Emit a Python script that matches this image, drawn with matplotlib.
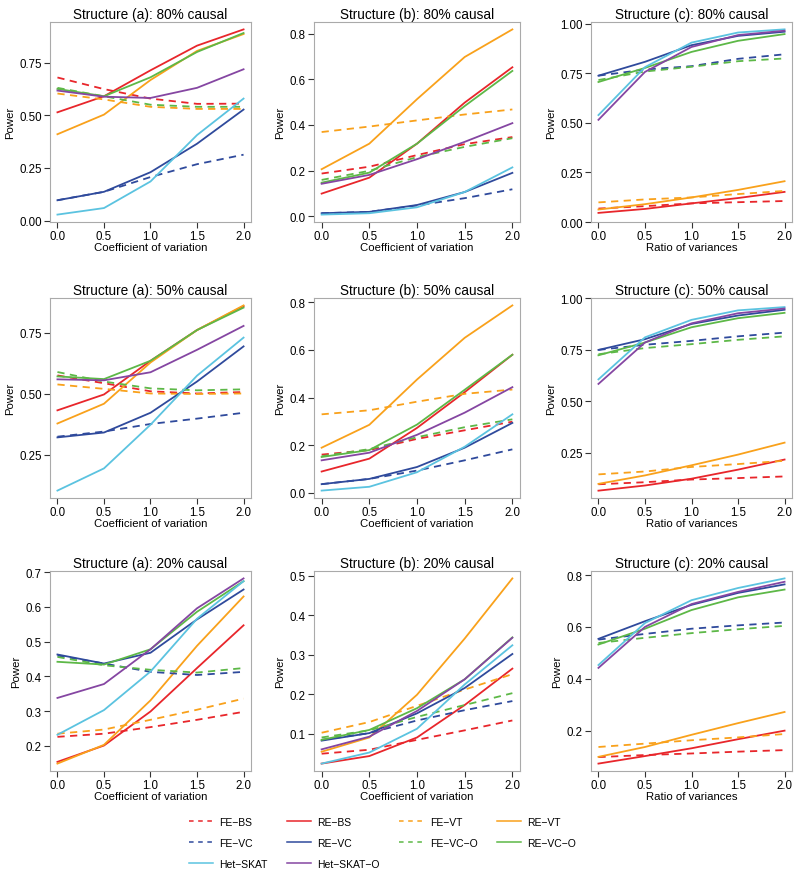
import numpy as np
import matplotlib
matplotlib.use("Agg")
import matplotlib.pyplot as plt
from matplotlib.lines import Line2D

plt.rcParams['font.family'] = ['Liberation Sans', 'DejaVu Sans']

x = [0.0, 0.5, 1.0, 1.5, 2.0]

# power values per panel
a80 = {
    "FE-BS": [0.679, 0.624, 0.579, 0.554, 0.555],
    "RE-BS": [0.514, 0.590, 0.713, 0.830, 0.907],
    "FE-VT": [0.603, 0.575, 0.540, 0.530, 0.530],
    "RE-VT": [0.410, 0.503, 0.667, 0.805, 0.885],
    "FE-VC": [0.097, 0.137, 0.207, 0.268, 0.313],
    "RE-VC": [0.097, 0.137, 0.230, 0.365, 0.527],
    "FE-VC-O": [0.630, 0.590, 0.550, 0.540, 0.540],
    "RE-VC-O": [0.625, 0.590, 0.680, 0.800, 0.890],
    "Het-SKAT": [0.029, 0.060, 0.186, 0.406, 0.579],
    "Het-SKAT-O": [0.617, 0.588, 0.582, 0.630, 0.718],
}
b80 = {
    "FE-BS": [0.187, 0.217, 0.268, 0.316, 0.347],
    "RE-BS": [0.099, 0.169, 0.318, 0.498, 0.653],
    "FE-VT": [0.369, 0.393, 0.420, 0.446, 0.468],
    "RE-VT": [0.206, 0.318, 0.513, 0.698, 0.819],
    "FE-VC": [0.013, 0.019, 0.047, 0.079, 0.118],
    "RE-VC": [0.013, 0.019, 0.049, 0.106, 0.190],
    "FE-VC-O": [0.159, 0.199, 0.259, 0.304, 0.342],
    "RE-VC-O": [0.147, 0.191, 0.318, 0.483, 0.637],
    "Het-SKAT": [0.007, 0.013, 0.039, 0.106, 0.214],
    "Het-SKAT-O": [0.142, 0.181, 0.250, 0.326, 0.408],
}
c80 = {
    "FE-BS": [0.068, 0.080, 0.094, 0.100, 0.106],
    "RE-BS": [0.046, 0.066, 0.094, 0.121, 0.152],
    "FE-VT": [0.099, 0.114, 0.124, 0.141, 0.157],
    "RE-VT": [0.063, 0.090, 0.124, 0.162, 0.206],
    "FE-VC": [0.739, 0.770, 0.787, 0.824, 0.847],
    "RE-VC": [0.739, 0.809, 0.893, 0.940, 0.961],
    "FE-VC-O": [0.717, 0.760, 0.784, 0.812, 0.826],
    "RE-VC-O": [0.707, 0.778, 0.859, 0.915, 0.949],
    "Het-SKAT": [0.540, 0.782, 0.906, 0.957, 0.973],
    "Het-SKAT-O": [0.516, 0.758, 0.884, 0.944, 0.966],
}
a50 = {
    "FE-BS": [0.575, 0.543, 0.510, 0.501, 0.507],
    "RE-BS": [0.432, 0.497, 0.635, 0.761, 0.859],
    "FE-VT": [0.538, 0.520, 0.501, 0.499, 0.501],
    "RE-VT": [0.378, 0.459, 0.628, 0.761, 0.862],
    "FE-VC": [0.324, 0.345, 0.376, 0.398, 0.422],
    "RE-VC": [0.321, 0.341, 0.422, 0.550, 0.694],
    "FE-VC-O": [0.589, 0.550, 0.522, 0.514, 0.518],
    "RE-VC-O": [0.571, 0.560, 0.635, 0.761, 0.853],
    "Het-SKAT": [0.103, 0.194, 0.373, 0.574, 0.730],
    "Het-SKAT-O": [0.559, 0.555, 0.588, 0.680, 0.778],
}
b50 = {
    "FE-BS": [0.161, 0.180, 0.227, 0.263, 0.299],
    "RE-BS": [0.090, 0.144, 0.273, 0.423, 0.580],
    "FE-VT": [0.330, 0.347, 0.383, 0.416, 0.434],
    "RE-VT": [0.190, 0.286, 0.476, 0.651, 0.787],
    "FE-VC": [0.037, 0.059, 0.094, 0.137, 0.183],
    "RE-VC": [0.037, 0.059, 0.109, 0.190, 0.294],
    "FE-VC-O": [0.154, 0.184, 0.234, 0.276, 0.309],
    "RE-VC-O": [0.151, 0.180, 0.287, 0.433, 0.580],
    "Het-SKAT": [0.010, 0.026, 0.087, 0.194, 0.330],
    "Het-SKAT-O": [0.137, 0.169, 0.244, 0.337, 0.444],
}
c50 = {
    "FE-BS": [0.096, 0.106, 0.119, 0.126, 0.134],
    "RE-BS": [0.065, 0.090, 0.123, 0.167, 0.216],
    "FE-VT": [0.144, 0.158, 0.180, 0.194, 0.210],
    "RE-VT": [0.098, 0.139, 0.188, 0.240, 0.298],
    "FE-VC": [0.748, 0.773, 0.792, 0.814, 0.832],
    "RE-VC": [0.748, 0.800, 0.874, 0.915, 0.943],
    "FE-VC-O": [0.727, 0.757, 0.776, 0.797, 0.814],
    "RE-VC-O": [0.722, 0.784, 0.858, 0.902, 0.928],
    "Het-SKAT": [0.605, 0.809, 0.894, 0.940, 0.956],
    "Het-SKAT-O": [0.583, 0.784, 0.877, 0.926, 0.949],
}
a20 = {
    "FE-BS": [0.226, 0.235, 0.254, 0.275, 0.298],
    "RE-BS": [0.154, 0.201, 0.299, 0.424, 0.547],
    "FE-VT": [0.235, 0.247, 0.275, 0.304, 0.336],
    "RE-VT": [0.149, 0.203, 0.331, 0.488, 0.630],
    "FE-VC": [0.460, 0.437, 0.413, 0.404, 0.413],
    "RE-VC": [0.463, 0.437, 0.468, 0.564, 0.650],
    "FE-VC-O": [0.456, 0.432, 0.419, 0.411, 0.424],
    "RE-VC-O": [0.442, 0.434, 0.478, 0.586, 0.674],
    "Het-SKAT": [0.232, 0.303, 0.414, 0.566, 0.674],
    "Het-SKAT-O": [0.338, 0.378, 0.478, 0.596, 0.682],
}
b20 = {
    "FE-BS": [0.050, 0.060, 0.085, 0.109, 0.134],
    "RE-BS": [0.025, 0.044, 0.091, 0.173, 0.265],
    "FE-VT": [0.103, 0.130, 0.171, 0.212, 0.251],
    "RE-VT": [0.055, 0.091, 0.199, 0.341, 0.493],
    "FE-VC": [0.085, 0.102, 0.134, 0.160, 0.183],
    "RE-VC": [0.083, 0.102, 0.152, 0.216, 0.302],
    "FE-VC-O": [0.091, 0.109, 0.143, 0.173, 0.203],
    "RE-VC-O": [0.085, 0.110, 0.165, 0.238, 0.344],
    "Het-SKAT": [0.025, 0.053, 0.113, 0.225, 0.324],
    "Het-SKAT-O": [0.061, 0.093, 0.158, 0.238, 0.343],
}
c20 = {
    "FE-BS": [0.098, 0.106, 0.112, 0.119, 0.125],
    "RE-BS": [0.073, 0.102, 0.132, 0.167, 0.200],
    "FE-VT": [0.137, 0.150, 0.163, 0.174, 0.187],
    "RE-VT": [0.099, 0.137, 0.184, 0.229, 0.272],
    "FE-VC": [0.551, 0.573, 0.593, 0.606, 0.617],
    "RE-VC": [0.554, 0.622, 0.685, 0.731, 0.764],
    "FE-VC-O": [0.538, 0.558, 0.576, 0.591, 0.604],
    "RE-VC-O": [0.532, 0.593, 0.665, 0.714, 0.744],
    "Het-SKAT": [0.453, 0.615, 0.703, 0.750, 0.787],
    "Het-SKAT-O": [0.442, 0.600, 0.688, 0.735, 0.774],
}

panels = [a80, b80, c80, a50, b50, c50, a20, b20, c20]
titles = ["Structure (a): 80% causal", "Structure (b): 80% causal", "Structure (c): 80% causal",
          "Structure (a): 50% causal", "Structure (b): 50% causal", "Structure (c): 50% causal",
          "Structure (a): 20% causal", "Structure (b): 20% causal", "Structure (c): 20% causal"]
xlabels = ["Coefficient of variation", "Coefficient of variation", "Ratio of variances"] * 3
yticks = [[0, 0.25, 0.5, 0.75], [0, 0.2, 0.4, 0.6, 0.8], [0, 0.25, 0.5, 0.75, 1.0],
          [0.25, 0.5, 0.75], [0, 0.2, 0.4, 0.6, 0.8], [0.25, 0.5, 0.75, 1.0],
          [0.2, 0.3, 0.4, 0.5, 0.6, 0.7], [0.1, 0.2, 0.3, 0.4, 0.5], [0.2, 0.4, 0.6, 0.8]]
ydec = [2, 1, 2, 2, 1, 2, 1, 1, 1]

methods = ["FE-BS", "RE-BS", "FE-VT", "RE-VT", "FE-VC", "RE-VC",
           "FE-VC-O", "RE-VC-O", "Het-SKAT", "Het-SKAT-O"]
colors = {"BS": "#E8262B", "VT": "#F9A11B", "VC": "#2F4A9C", "VC-O": "#5DB847",
          "Het-SKAT": "#5BC3E0", "Het-SKAT-O": "#8546A2"}

def style(m):
    if m.startswith("Het"):
        return colors[m], "-"
    return colors[m[3:]], ("--" if m.startswith("FE") else "-")

W, H = 800, 878
fig = plt.figure(figsize=(W / 100, H / 100), dpi=100)
lefts = [50, 314, 591]
widths = [201, 206, 201]
tops = [23, 299, 572]
height = 200

for i, d in enumerate(panels):
    r, c = divmod(i, 3)
    ax = fig.add_axes([lefts[c] / W, 1 - (tops[r] + height) / H, widths[c] / W, height / H])
    for m in methods:
        col, ls = style(m)
        ax.plot(x, d[m], color=col, linestyle=ls, lw=1.3,
                dashes=(4, 3) if ls == "--" else (None, None))
    allv = np.concatenate([d[m] for m in methods])
    lo, hi = allv.min(), allv.max()
    pad = 0.04 * (hi - lo)
    ax.set_ylim(lo - pad, hi + pad)
    ax.set_xlim(-0.08, 2.08)
    ax.set_xticks(x)
    ax.set_xticklabels(["0.0", "0.5", "1.0", "1.5", "2.0"])
    ax.set_yticks(yticks[i])
    ax.set_yticklabels([f"{t:.{ydec[i]}f}" for t in yticks[i]])
    ax.tick_params(direction="out", length=4, width=0.8, color="#333333",
                   labelsize=8.3, pad=2, top=False, right=False)
    for s in ax.spines.values():
        s.set_color("#AAAAAA")
        s.set_linewidth(0.8)
    ax.set_title(titles[i], fontsize=9.8, pad=3)
    ax.set_xlabel(xlabels[i], fontsize=8.2, labelpad=0)
    ax.set_ylabel("Power", fontsize=8.2, labelpad=3)

# legend, filled column-wise (4 columns)
order = ["FE-BS", "FE-VC", "Het-SKAT", "RE-BS", "RE-VC", "Het-SKAT-O",
         "FE-VT", "FE-VC-O", "RE-VT", "RE-VC-O"]
handles = []
for m in order:
    col, ls = style(m)
    h = Line2D([], [], color=col, linestyle=ls, lw=1.1,
               dashes=(3, 3) if ls == "--" else (None, None))
    handles.append(h)
fig.legend(handles, [m.replace("-", "\u2212") for m in order], ncol=4,
           loc="center", bbox_to_anchor=(0.478, 1 - 844 / H), frameon=False,
           fontsize=7.5, handlelength=2.3, handletextpad=0.6,
           columnspacing=1.9, labelspacing=1.05)

fig.savefig("out.png", dpi=100)
